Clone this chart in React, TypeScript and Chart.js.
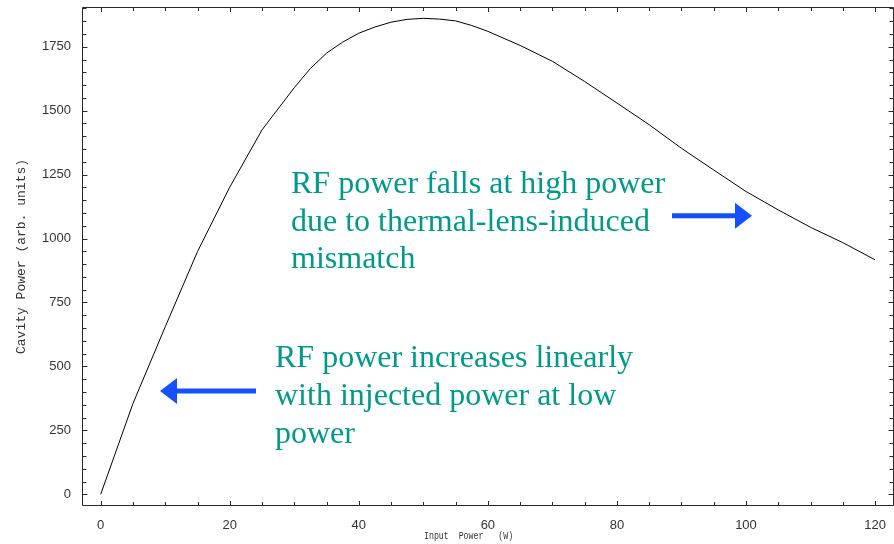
import { useEffect, useRef } from "react";
import { Chart, registerables } from "chart.js";

Chart.register(...registerables);

// ---- data ----
const inputPower = [0, 5, 10, 15, 20, 25, 30, 32.5, 35, 37.5, 40, 42.5, 45, 47.5, 50, 52.5, 55, 57.5, 60, 65, 70, 75, 80, 85, 90, 95, 100, 105, 110, 115, 120];
const cavityPower = [0, 355, 655, 949, 1201, 1425, 1590, 1665, 1725, 1768, 1803, 1827, 1846, 1857, 1861, 1858, 1851, 1833, 1810, 1755, 1693, 1614, 1530, 1445, 1353, 1268, 1184, 1112, 1044, 984, 917];
const xTickValues = [0, 20, 40, 60, 80, 100, 120];
const yTickValues = [0, 250, 500, 750, 1000, 1250, 1500, 1750];
const xMinorStep = 5;
const yMinorStep = 50;
const yAxisTitle = "Cavity Power (arb. units)";
const xAxisTitle = "Input  Power   (W)";
const noteHigh = ["RF power falls at high power", "due to thermal-lens-induced", "mismatch"];
const noteLow = ["RF power increases linearly", "with injected power at low", "power"];

const AXIS_COLOR = "#2a2a2a";
const LABEL_COLOR = "#333333";
const NOTE_COLOR = "#00998a";
const ARROW_COLOR = "#1450ff";

function drawArrow(ctx: CanvasRenderingContext2D, x1: number, x2: number, y: number) {
  const dir = Math.sign(x2 - x1);
  const headLen = 17;
  const headHalf = 13;
  const shaftHalf = 2.5;
  const baseX = x2 - dir * headLen;
  ctx.save();
  ctx.fillStyle = ARROW_COLOR;
  ctx.beginPath();
  ctx.moveTo(x1, y - shaftHalf);
  ctx.lineTo(baseX, y - shaftHalf);
  ctx.lineTo(baseX, y - headHalf);
  ctx.lineTo(x2, y);
  ctx.lineTo(baseX, y + headHalf);
  ctx.lineTo(baseX, y + shaftHalf);
  ctx.lineTo(x1, y + shaftHalf);
  ctx.closePath();
  ctx.fill();
  ctx.restore();
}

const zeroPadding = (s: any) => {
  s.paddingTop = 0;
  s.paddingBottom = 0;
  s.paddingLeft = 0;
  s.paddingRight = 0;
};

const framePlugin = {
  id: "frameAndNotes",
  afterDraw(chart: any) {
    const { ctx, chartArea } = chart;
    const xs = chart.scales.x;
    const ys = chart.scales.y;
    const L = chartArea.left, R = chartArea.right, T = chartArea.top, B = chartArea.bottom;
    ctx.save();
    ctx.strokeStyle = AXIS_COLOR;
    ctx.lineWidth = 1;
    ctx.beginPath();
    ctx.moveTo(L + 0.5, T + 0.5);
    ctx.lineTo(R - 0.5, T + 0.5);
    ctx.lineTo(R - 0.5, B - 0.5);
    ctx.lineTo(L + 0.5, B - 0.5);
    ctx.closePath();
    ctx.stroke();

    // x ticks (bottom and top, inward)
    ctx.beginPath();
    for (let v = 0; v <= 120 + 1e-9; v += xMinorStep) {
      const major = xTickValues.includes(v);
      const len = major ? 4 : 3;
      const px = Math.round(xs.getPixelForValue(v)) + 0.5;
      ctx.moveTo(px, B - 1);
      ctx.lineTo(px, B - 1 - len);
      ctx.moveTo(px, T + 1);
      ctx.lineTo(px, T + 1 + len);
    }
    // y ticks (left and right, inward)
    for (let v = 0; v <= 1900; v += yMinorStep) {
      const major = yTickValues.includes(v);
      const len = major ? 4.5 : 3.5;
      const py = Math.round(ys.getPixelForValue(v)) + 0.5;
      ctx.moveTo(L + 1, py);
      ctx.lineTo(L + 1 + len, py);
      ctx.moveTo(R - 1, py);
      ctx.lineTo(R - 1 - len, py);
    }
    ctx.stroke();

    // x axis title (condensed monospace)
    ctx.fillStyle = LABEL_COLOR;
    ctx.font = "11px 'Liberation Mono'";
    ctx.textBaseline = "middle";
    ctx.textAlign = "left";
    ctx.save();
    ctx.translate(424, 536);
    ctx.scale(0.75, 1);
    ctx.fillText(xAxisTitle, 0, 0);
    ctx.restore();

    // annotations
    ctx.fillStyle = NOTE_COLOR;
    ctx.font = "32px 'Liberation Serif'";
    ctx.textBaseline = "alphabetic";
    ctx.textAlign = "left";
    noteHigh.forEach((line, i) => ctx.fillText(line, 291, 192.7 + i * 37.8));
    noteLow.forEach((line, i) => ctx.fillText(line, 275, 366.7 + i * 38));

    drawArrow(ctx, 672, 752, 215.7);
    drawArrow(ctx, 256, 160, 391);
    ctx.restore();
  },
};

export default function App() {
  const ref = useRef<HTMLCanvasElement | null>(null);
  useEffect(() => {
    document.body.style.margin = "0";
    const canvas = ref.current;
    if (!canvas) return;
    const chart = new Chart(canvas, {
      type: "line",
      data: {
        datasets: [
          {
            label: "Cavity Power",
            data: inputPower.map((x, i) => ({ x, y: cavityPower[i] })),
            borderColor: "#000000",
            borderWidth: 1,
            pointRadius: 0,
            tension: 0,
            fill: false,
          },
        ],
      },
      options: {
        animation: false,
        responsive: false,
        maintainAspectRatio: false,
        layout: { padding: { top: 7, right: 0, left: 0, bottom: 0 } },
        plugins: { legend: { display: false }, tooltip: { enabled: false } },
        scales: {
          x: {
            type: "linear",
            min: -2.9,
            max: 122.94,
            grid: { display: false, drawTicks: false },
            border: { display: false },
            afterBuildTicks: (s: any) => {
              s.ticks = xTickValues.map((v) => ({ value: v }));
            },
            afterFit: (s: any) => {
              s.height = 38;
              zeroPadding(s);
            },
            ticks: {
              color: LABEL_COLOR,
              font: { family: "'Liberation Sans'", size: 13 },
              padding: 12,
              maxRotation: 0,
              autoSkip: false,
              callback: (v: any) => String(v),
            },
          },
          y: {
            type: "linear",
            min: -45.7,
            max: 1905.3,
            grid: { display: false, drawTicks: false },
            border: { display: false },
            afterBuildTicks: (s: any) => {
              s.ticks = yTickValues.map((v) => ({ value: v }));
            },
            afterFit: (s: any) => {
              s.width = 82;
              zeroPadding(s);
            },
            title: {
              display: true,
              text: yAxisTitle,
              color: LABEL_COLOR,
              font: { family: "'Liberation Mono'", size: 13 },
              padding: { top: 14, bottom: 0 },
            },
            ticks: {
              color: LABEL_COLOR,
              font: { family: "'Liberation Sans'", size: 13, lineHeight: 1 },
              padding: 11,
              autoSkip: false,
              callback: (v: any) => String(v),
            },
          },
        },
      },
      plugins: [framePlugin],
    });
    return () => chart.destroy();
  }, []);
  return (
    <div style={{ width: 894, height: 544 }}>
      <canvas ref={ref} width={894} height={544} />
    </div>
  );
}
